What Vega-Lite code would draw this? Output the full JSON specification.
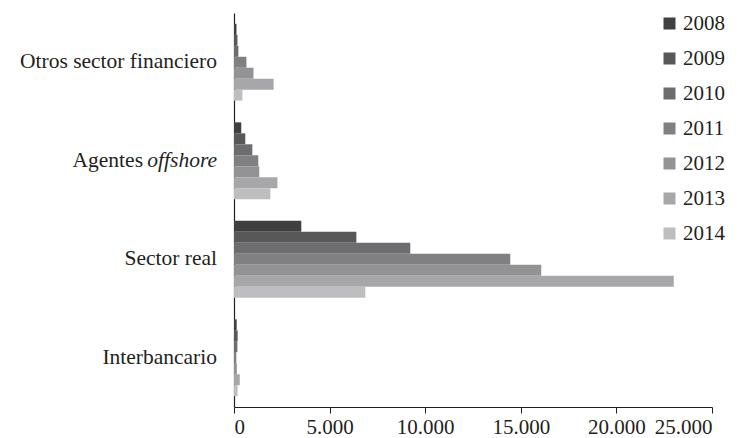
{
  "$schema": "https://vega.github.io/schema/vega-lite/v6.json",
  "width": 478,
  "height": 394,
  "autosize": "none",
  "padding": {"left": 234, "top": 13, "right": 32, "bottom": 31},
  "background": "white",
  "datasets": {
    "barras": [
      {"categoria": "Otros sector financiero", "anio": "2008", "valor": 130},
      {"categoria": "Otros sector financiero", "anio": "2009", "valor": 180},
      {"categoria": "Otros sector financiero", "anio": "2010", "valor": 230},
      {"categoria": "Otros sector financiero", "anio": "2011", "valor": 650},
      {"categoria": "Otros sector financiero", "anio": "2012", "valor": 1020},
      {"categoria": "Otros sector financiero", "anio": "2013", "valor": 2070},
      {"categoria": "Otros sector financiero", "anio": "2014", "valor": 440},
      {"categoria": "Agentes offshore", "anio": "2008", "valor": 380},
      {"categoria": "Agentes offshore", "anio": "2009", "valor": 590},
      {"categoria": "Agentes offshore", "anio": "2010", "valor": 960},
      {"categoria": "Agentes offshore", "anio": "2011", "valor": 1270},
      {"categoria": "Agentes offshore", "anio": "2012", "valor": 1320},
      {"categoria": "Agentes offshore", "anio": "2013", "valor": 2270},
      {"categoria": "Agentes offshore", "anio": "2014", "valor": 1900},
      {"categoria": "Sector real", "anio": "2008", "valor": 3520},
      {"categoria": "Sector real", "anio": "2009", "valor": 6400},
      {"categoria": "Sector real", "anio": "2010", "valor": 9220},
      {"categoria": "Sector real", "anio": "2011", "valor": 14450},
      {"categoria": "Sector real", "anio": "2012", "valor": 16070},
      {"categoria": "Sector real", "anio": "2013", "valor": 23000},
      {"categoria": "Sector real", "anio": "2014", "valor": 6870},
      {"categoria": "Interbancario", "anio": "2008", "valor": 140},
      {"categoria": "Interbancario", "anio": "2009", "valor": 190},
      {"categoria": "Interbancario", "anio": "2010", "valor": 175},
      {"categoria": "Interbancario", "anio": "2011", "valor": 120},
      {"categoria": "Interbancario", "anio": "2012", "valor": 150},
      {"categoria": "Interbancario", "anio": "2013", "valor": 300},
      {"categoria": "Interbancario", "anio": "2014", "valor": 190}
    ],
    "etiquetas": [
      {"categoria": "Otros sector financiero", "texto": "Otros sector financiero"},
      {"categoria": "Sector real", "texto": "Sector real"},
      {"categoria": "Interbancario", "texto": "Interbancario"}
    ],
    "agentes": [
      {"categoria": "Agentes offshore", "recto": "Agentes", "cursiva": "offshore"}
    ]
  },
  "encoding": {
    "y": {
      "field": "categoria",
      "type": "nominal",
      "sort": ["Otros sector financiero", "Agentes offshore", "Sector real", "Interbancario"],
      "scale": {"paddingInner": 0.22, "paddingOuter": 0.11},
      "axis": {"labels": false, "ticks": false, "title": null, "domainColor": "#231f20", "domainWidth": 1.2}
    }
  },
  "layer": [
    {
      "data": {"name": "barras"},
      "mark": {"type": "bar", "strokeWidth": 0},
      "encoding": {
        "x": {
          "field": "valor",
          "type": "quantitative",
          "scale": {"domain": [0, 25000], "nice": false},
          "axis": {
            "title": null,
            "values": [0, 5000, 10000, 15000, 20000, 25000],
            "grid": false,
            "tickSize": 6,
            "tickColor": "#231f20",
            "domainColor": "#231f20",
            "domainWidth": 1.2,
            "labelFontSize": 21,
            "labelColor": "#231f20",
            "labelPadding": 3,
            "labelExpr": "replace(format(datum.value, ','), ',', '.')"
          }
        },
        "yOffset": {"field": "anio", "type": "nominal", "sort": "ascending", "scale": {"paddingInner": 0, "paddingOuter": 0}},
        "color": {
          "field": "anio",
          "type": "nominal",
          "scale": {
            "domain": ["2008", "2009", "2010", "2011", "2012", "2013", "2014"],
            "range": ["#404040", "#58585a", "#6d6d70", "#808083", "#939396", "#a7a7aa", "#bebec0"]
          },
          "legend": {
            "title": null,
            "orient": "none",
            "legendX": 425,
            "legendY": 0,
            "symbolType": "square",
            "symbolSize": 144,
            "symbolStrokeWidth": 0,
            "labelFontSize": 21,
            "labelColor": "#231f20",
            "labelOffset": 3,
            "rowPadding": 13
          }
        }
      }
    },
    {
      "data": {"name": "etiquetas"},
      "mark": {"type": "text", "align": "right", "baseline": "middle", "dx": -17, "fontSize": 21.5, "color": "#231f20"},
      "encoding": {
        "x": {"datum": 0, "type": "quantitative"},
        "text": {"field": "texto"}
      }
    },
    {
      "data": {"name": "agentes"},
      "mark": {"type": "text", "align": "right", "baseline": "middle", "dx": -91, "fontSize": 21.5, "color": "#231f20"},
      "encoding": {
        "x": {"datum": 0, "type": "quantitative"},
        "text": {"field": "recto"}
      }
    },
    {
      "data": {"name": "agentes"},
      "mark": {"type": "text", "align": "right", "baseline": "middle", "dx": -17, "fontSize": 21.5, "fontStyle": "italic", "color": "#231f20"},
      "encoding": {
        "x": {"datum": 0, "type": "quantitative"},
        "text": {"field": "cursiva"}
      }
    }
  ],
  "config": {
    "font": "Liberation Serif",
    "view": {"stroke": null}
  }
}
